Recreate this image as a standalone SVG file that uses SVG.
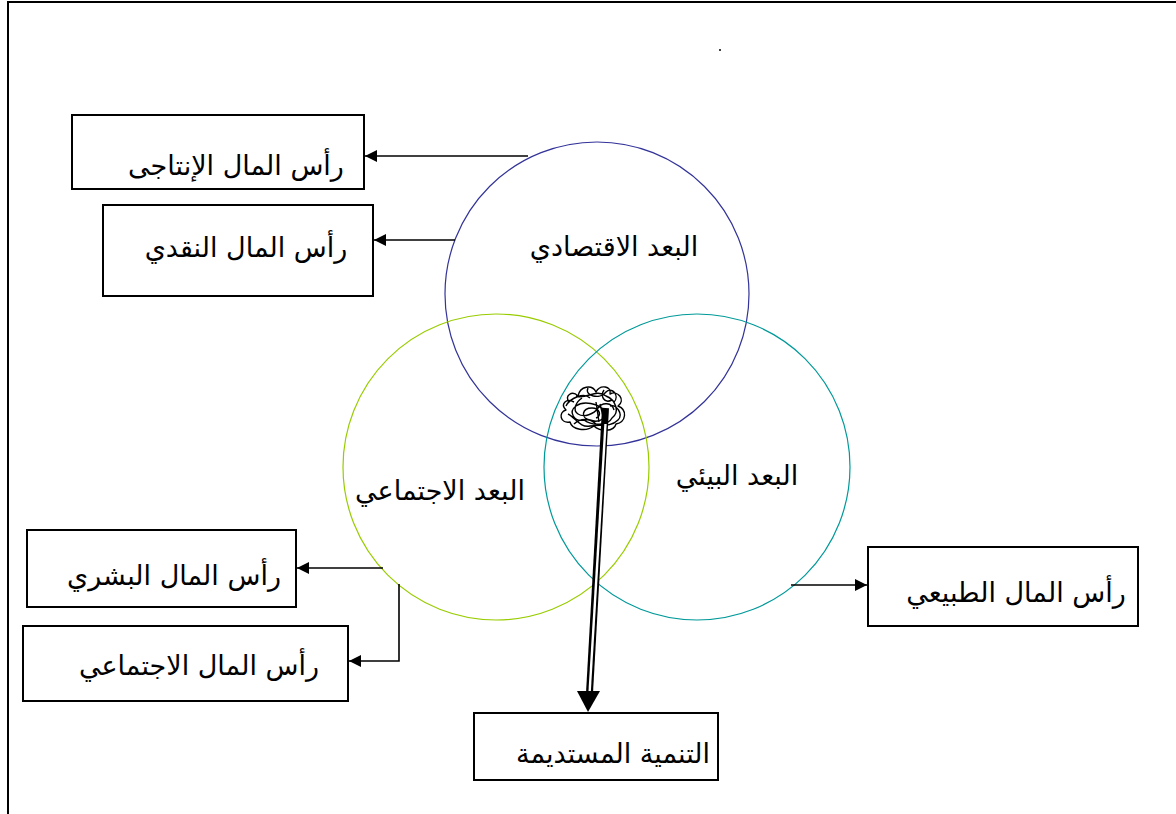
<svg xmlns="http://www.w3.org/2000/svg" width="1176" height="814" viewBox="0 0 1176 814">
  <style>
    .frame { fill: none; stroke: #000; stroke-width: 2; }
    .box { fill: #fff; stroke: #000; stroke-width: 2; }
    .lbl { font-family: "DejaVu Sans", "Liberation Serif", sans-serif; font-size: 27px; fill: #000; text-anchor: middle; }
    .conn { fill: none; stroke: #000; stroke-width: 1.6; }
    .ring { fill: none; stroke-width: 1.2; }
  </style>
  <defs>
    <marker id="arrow" viewBox="0 0 10 10" refX="10" refY="5" markerWidth="13" markerHeight="12" markerUnits="userSpaceOnUse" orient="auto">
      <path d="M0,0 L10,5 L0,10 Z" fill="#000"/>
    </marker>
  </defs>

  <rect width="1176" height="814" fill="#fff"/>
  <!-- page frame: top and left rules -->
  <path class="frame" d="M8,814 V2 H1176"/>
  <circle cx="720" cy="50" r="1" fill="#000"/>

  <!-- three overlapping dimensions -->
  <g id="economic">
    <circle class="ring" cx="597" cy="294" r="152" stroke="#333399"/>
    <text class="lbl" x="614" y="256">البعد الاقتصادي</text>
  </g>
  <g id="social">
    <circle class="ring" cx="496" cy="467" r="153" stroke="#99CC00"/>
    <text class="lbl" x="440" y="500">البعد الاجتماعي</text>
  </g>
  <g id="environment">
    <circle class="ring" cx="697" cy="467" r="153" stroke="#009999"/>
    <text class="lbl" x="737" y="485">البعد البيئي</text>
  </g>

  <!-- capital boxes -->
  <g id="productive-capital">
    <rect class="box" x="72" y="115" width="292" height="74"/>
    <text class="lbl" x="236" y="175">رأس المال الإنتاجى</text>
  </g>
  <g id="financial-capital">
    <rect class="box" x="103" y="205" width="270" height="91"/>
    <text class="lbl" x="246" y="257">رأس المال النقدي</text>
  </g>
  <g id="human-capital">
    <rect class="box" x="27" y="530" width="269" height="77"/>
    <text class="lbl" x="174" y="585">رأس المال البشري</text>
  </g>
  <g id="social-capital">
    <rect class="box" x="23" y="626" width="325" height="75"/>
    <text class="lbl" x="199" y="675">رأس المال الاجتماعي</text>
  </g>
  <g id="natural-capital">
    <rect class="box" x="868" y="547" width="270" height="79"/>
    <text class="lbl" x="1016" y="602">رأس المال الطبيعي</text>
  </g>
  <g id="sustainable-development">
    <rect class="box" x="474" y="713" width="244" height="67"/>
    <text class="lbl" x="613" y="763">التنمية المستديمة</text>
  </g>

  <!-- connectors -->
  <g id="connectors">
    <path class="conn" d="M528,156 H365" marker-end="url(#arrow)"/>
    <path class="conn" d="M455,240 H374" marker-end="url(#arrow)"/>
    <path class="conn" d="M383,568 H297" marker-end="url(#arrow)"/>
    <path class="conn" d="M399,584 V661 H349" marker-end="url(#arrow)"/>
    <path class="conn" d="M791,585 H867" marker-end="url(#arrow)"/>

    <!-- hand-drawn tangle at the shared core -->
    <path fill="none" stroke="#000" stroke-width="1.4" stroke-linejoin="round" d="M569,402 C564,396 572,390 578,396 C580,386 592,384 596,392 C600,384 612,386 610,394 C618,390 626,400 618,406 C628,410 626,422 616,424 C614,432 600,432 594,426 C586,432 572,430 570,422 C560,424 558,412 566,410 C560,404 566,398 574,402 M576,396 C586,400 596,388 606,396 C616,400 620,412 612,418 C608,426 592,426 584,420 C574,422 568,412 576,406 C584,400 598,404 604,410 C610,416 600,424 590,420 C580,418 582,408 592,408 C600,408 602,416 596,418 M588,388 C584,396 600,400 606,392 C612,386 620,396 614,402 M568,414 C576,418 580,428 590,426 C600,424 610,428 618,420 C624,414 616,404 610,406 M582,398 C576,402 572,410 578,414 C584,418 594,414 598,408 C602,402 612,402 614,410 M566,406 C570,398 584,392 590,398 M604,390 C600,396 604,404 612,400 M574,424 C580,418 590,418 596,424 M600,404 L604,420 M596,402 L599,422"/>

    <!-- double-stroke arrow to the outcome -->
    <path fill="none" stroke="#000" stroke-width="7" d="M605.5,408 L589.5,693"/>
    <path fill="none" stroke="#fff" stroke-width="2.4" d="M605.5,424 L589.5,694"/>
    <path d="M577,691 L600,691 L588,712 Z" fill="#000"/>
  </g>
</svg>
